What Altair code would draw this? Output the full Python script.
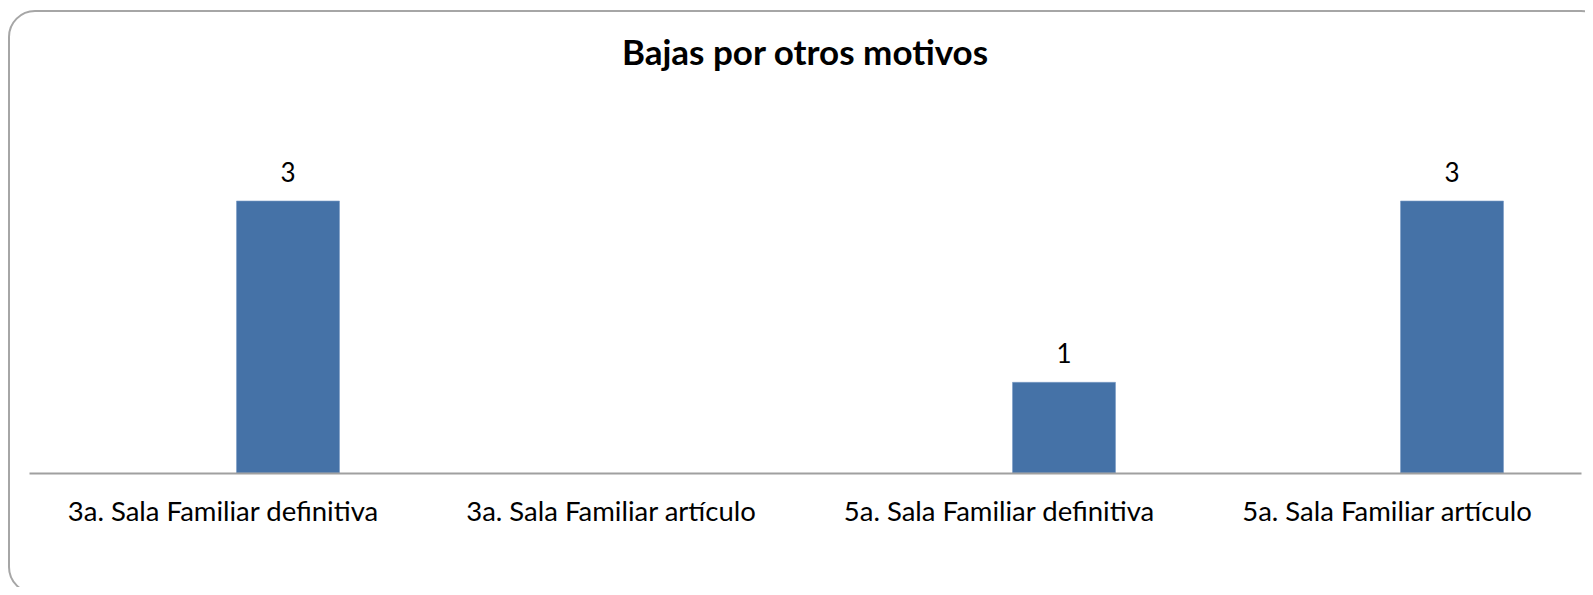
import altair as alt
import pandas as pd

categories = [
    "3a. Sala Familiar definitiva",
    "3a. Sala Familiar artículo",
    "5a. Sala Familiar definitiva",
    "5a. Sala Familiar artículo",
]
values = [3, None, 1, 3]
title_text = "Bajas por otros motivos"

df = pd.DataFrame({"categoria": categories, "valor": values})

FONT = "Lato"
BLUE = "#4572A7"

x_enc = alt.X(
    "categoria:N",
    sort=categories,
    scale=alt.Scale(domain=categories, paddingInner=0, paddingOuter=0),
    axis=alt.Axis(
        title=None,
        labelAngle=0,
        ticks=False,
        tickSize=0,
        labelPadding=47,
        labelBaseline="alphabetic",
        labelFont=FONT,
        labelFontSize=27.5,
        labelColor="#000000",
        domainColor="#a0a0a0",
        domainWidth=2,
        grid=False,
        labelLimit=0,
        zindex=1,
    ),
)
y_enc = alt.Y(
    "valor:Q",
    scale=alt.Scale(domain=[0, 3], nice=False, zero=True),
    axis=None,
)

border = alt.Chart(pd.DataFrame({"k": [0]})).mark_rect(
    filled=False,
    stroke="#a6a6a6",
    strokeWidth=2,
    cornerRadius=26,
).encode(
    x=alt.value(-20),
    x2=alt.value(1578),
    y=alt.value(-190),
    y2=alt.value(392),
)

bars = alt.Chart(df).mark_bar(
    color=BLUE, width=103, xOffset=65, stroke="#7b9cc6", strokeWidth=0.6
).encode(x=x_enc, y=y_enc)

labels = alt.Chart(df).transform_filter("datum.valor != null").mark_text(
    font=FONT, fontSize=26, color="#000000", baseline="alphabetic", dy=-19, xOffset=65
).encode(x=x_enc, y=y_enc, text=alt.Text("valor:Q"))

title = alt.Chart(pd.DataFrame({"t": [title_text]})).mark_text(
    font=FONT, fontSize=35, fontWeight="bold", color="#000000", baseline="alphabetic", align="center"
).encode(x=alt.value(776), y=alt.value(-136), text="t:N")

chart = alt.layer(border, bars, labels, title).properties(
    width=1552,
    height=272,
    autosize=alt.AutoSizeParams(type="none"),
    padding={"left": 21, "top": 193, "right": 4, "bottom": 114},
    background="white",
).configure_view(stroke=None)

chart.save("out.html", embed_options={"renderer": "svg", "actions": False})
